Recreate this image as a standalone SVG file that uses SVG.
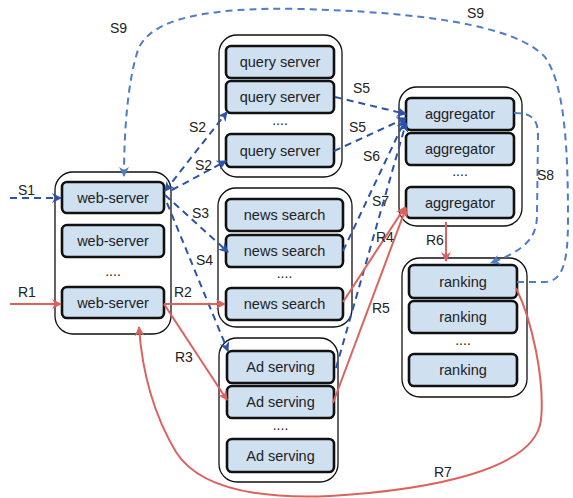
<svg xmlns="http://www.w3.org/2000/svg" width="573" height="498" viewBox="0 0 573 498">
  <defs>
    <style>
      .tier { fill: #ffffff; stroke: #111; stroke-width: 1.3; }
      .box { fill: #cfe0f1; stroke: #111; stroke-width: 2.6; }
      .name { font-family: "Liberation Sans", Arial, sans-serif; font-size: 14.5px; fill: #222; text-anchor: middle; }
      .dots { font-family: "Liberation Sans", Arial, sans-serif; font-size: 14px; fill: #222; text-anchor: middle; }
      .lbl { font-family: "Liberation Sans", Arial, sans-serif; font-size: 14px; fill: #222; }
      .s { fill: none; stroke: #2c53a9; stroke-width: 2; stroke-dasharray: 7 5; }
      .s-light { fill: none; stroke: #4e7cc6; stroke-width: 2; stroke-dasharray: 7 5; }
      .r { fill: none; stroke: #dc625e; stroke-width: 2; }
    </style>
    <marker id="ah-blue" viewBox="0 0 10 10" refX="9" refY="5" markerWidth="5" markerHeight="5" orient="auto-start-reverse" markerUnits="strokeWidth">
      <path d="M0,0 L10,5 L0,10 L3,5 z" fill="#2c53a9"/>
    </marker>
    <marker id="ah-light" viewBox="0 0 10 10" refX="9" refY="5" markerWidth="5" markerHeight="5" orient="auto-start-reverse" markerUnits="strokeWidth">
      <path d="M0,0 L10,5 L0,10 L3,5 z" fill="#4e7cc6"/>
    </marker>
    <marker id="ah-red" viewBox="0 0 10 10" refX="9" refY="5" markerWidth="5" markerHeight="5" orient="auto-start-reverse" markerUnits="strokeWidth">
      <path d="M0,0 L10,5 L0,10 L3,5 z" fill="#dc625e"/>
    </marker>
  </defs>

  <!-- server tiers -->
  <g id="web-tier">
    <rect class="tier" x="55" y="172" width="116" height="162" rx="18"/>
    <rect class="box" x="62" y="182" width="102" height="31" rx="5"/>
    <text class="name" x="113" y="203">web-server</text>
    <rect class="box" x="62" y="225" width="102" height="32" rx="5"/>
    <text class="name" x="113" y="246">web-server</text>
    <text class="dots" x="113" y="276">....</text>
    <rect class="box" x="62" y="287" width="102" height="31" rx="5"/>
    <text class="name" x="113" y="308">web-server</text>
  </g>

  <g id="query-tier">
    <rect class="tier" x="219" y="35" width="123" height="142" rx="18"/>
    <rect class="box" x="226" y="46" width="108" height="32" rx="5"/>
    <text class="name" x="280" y="67">query server</text>
    <rect class="box" x="226" y="81" width="108" height="32" rx="5"/>
    <text class="name" x="280" y="102">query server</text>
    <text class="dots" x="280" y="125">....</text>
    <rect class="box" x="226" y="134" width="108" height="33" rx="5"/>
    <text class="name" x="280" y="156">query server</text>
  </g>

  <g id="news-tier">
    <rect class="tier" x="218" y="188" width="134" height="139" rx="18"/>
    <rect class="box" x="226" y="199" width="117" height="32" rx="5"/>
    <text class="name" x="284.5" y="220">news search</text>
    <rect class="box" x="226" y="235" width="117" height="32" rx="5"/>
    <text class="name" x="284.5" y="256">news search</text>
    <text class="dots" x="284.5" y="278">....</text>
    <rect class="box" x="226" y="288" width="117" height="32" rx="5"/>
    <text class="name" x="284.5" y="309">news search</text>
  </g>

  <g id="ad-tier">
    <rect class="tier" x="219" y="338" width="119" height="144" rx="18"/>
    <rect class="box" x="227" y="351" width="107" height="32" rx="5"/>
    <text class="name" x="280.5" y="372">Ad serving</text>
    <rect class="box" x="227" y="386" width="107" height="32" rx="5"/>
    <text class="name" x="280.5" y="407">Ad serving</text>
    <text class="dots" x="280.5" y="430">....</text>
    <rect class="box" x="227" y="439" width="107" height="33" rx="5"/>
    <text class="name" x="280.5" y="461">Ad serving</text>
  </g>

  <g id="aggregator-tier">
    <rect class="tier" x="399" y="87" width="123" height="139" rx="18"/>
    <rect class="box" x="406" y="98" width="108" height="32" rx="5"/>
    <text class="name" x="460" y="119">aggregator</text>
    <rect class="box" x="406" y="133" width="108" height="32" rx="5"/>
    <text class="name" x="460" y="154">aggregator</text>
    <text class="dots" x="460" y="176">....</text>
    <rect class="box" x="406" y="187" width="108" height="31" rx="5"/>
    <text class="name" x="460" y="208">aggregator</text>
  </g>

  <g id="ranking-tier">
    <rect class="tier" x="402" y="258" width="125" height="139" rx="18"/>
    <rect class="box" x="409" y="265" width="108" height="33" rx="5"/>
    <text class="name" x="463" y="287">ranking</text>
    <rect class="box" x="409" y="301" width="108" height="32" rx="5"/>
    <text class="name" x="463" y="322">ranking</text>
    <text class="dots" x="463" y="345">....</text>
    <rect class="box" x="409" y="354" width="108" height="32" rx="5"/>
    <text class="name" x="463" y="375">ranking</text>
  </g>

  <!-- request (solid) and response (dashed) flows -->
  <g id="connectors">
    <!-- S flows -->
    <path class="s" d="M10,198 L61,198" marker-end="url(#ah-blue)"/>
    <path class="s" d="M165,191 L227,112" marker-start="url(#ah-blue)" marker-end="url(#ah-blue)"/>
    <path class="s" d="M172,190 L226,161" marker-end="url(#ah-blue)"/>
    <path class="s" d="M165,195 L228,252" marker-end="url(#ah-blue)"/>
    <path class="s" d="M167,203 L228,351" marker-end="url(#ah-blue)"/>
    <path class="s" d="M335,97 L406,114" marker-end="url(#ah-blue)"/>
    <path class="s" d="M334,151 L406,118" marker-end="url(#ah-blue)"/>
    <path class="s" d="M343,251 L405,120" marker-end="url(#ah-blue)"/>
    <path class="s" d="M336,368 L406,123" marker-end="url(#ah-blue)"/>
    <path class="s-light" d="M514,113 C528,113 538,116 538,135 L537,215 C537,238 525,250 491,263" marker-end="url(#ah-light)"/>
    <path class="s-light" d="M517,282 L545,282 C563,281 568,262 568,220 C568,150 565,85 545,57 C515,25 420,12 300,9 C210,7 150,18 138,50 C128,80 124,130 124,176" marker-end="url(#ah-light)"/>

    <!-- R flows -->
    <path class="r" d="M10,304 L61,304" marker-end="url(#ah-red)"/>
    <path class="r" d="M164,304 L225,304" marker-end="url(#ah-red)"/>
    <path class="r" d="M164,304 L227,400" marker-end="url(#ah-red)"/>
    <path class="r" d="M343,302 L405,207" marker-end="url(#ah-red)"/>
    <path class="r" d="M333,403 L406,208" marker-end="url(#ah-red)"/>
    <path class="r" d="M446,222 L446,261" marker-end="url(#ah-red)"/>
    <path class="r" d="M516,288 C532,320 545,380 541,420 C535,470 430,490 330,496 C260,499 200,490 176,452 C152,412 142,370 139,327" marker-end="url(#ah-red)"/>
  </g>

  <!-- flow labels -->
  <g id="labels">
    <text class="lbl" x="18" y="195">S1</text>
    <text class="lbl" x="189" y="132">S2</text>
    <text class="lbl" x="195" y="170">S2</text>
    <text class="lbl" x="192" y="218">S3</text>
    <text class="lbl" x="196" y="265">S4</text>
    <text class="lbl" x="353" y="93">S5</text>
    <text class="lbl" x="349" y="132">S5</text>
    <text class="lbl" x="363" y="161">S6</text>
    <text class="lbl" x="372" y="206">S7</text>
    <text class="lbl" x="537" y="180">S8</text>
    <text class="lbl" x="110" y="33">S9</text>
    <text class="lbl" x="467" y="18">S9</text>
    <text class="lbl" x="18" y="297">R1</text>
    <text class="lbl" x="174" y="297">R2</text>
    <text class="lbl" x="175" y="362">R3</text>
    <text class="lbl" x="376" y="242">R4</text>
    <text class="lbl" x="372" y="313">R5</text>
    <text class="lbl" x="426" y="245">R6</text>
    <text class="lbl" x="434" y="477">R7</text>
  </g>
</svg>
